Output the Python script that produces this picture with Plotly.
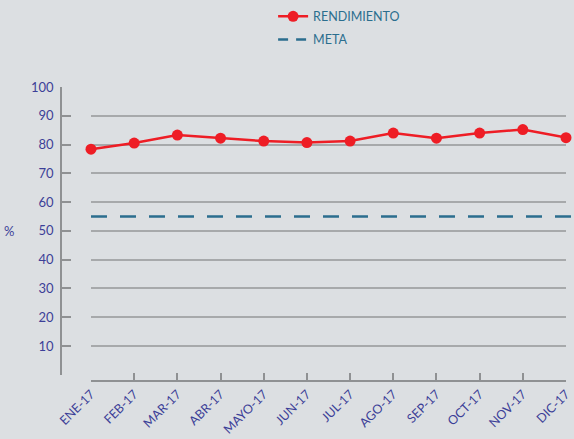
import plotly.graph_objects as go

months = ["ENE-17", "FEB-17", "MAR-17", "ABR-17", "MAYO-17", "JUN-17",
          "JUL-17", "AGO-17", "SEP-17", "OCT-17", "NOV-17", "DIC-17"]
rendimiento = [78.4, 80.5, 83.3, 82.2, 81.2, 80.7, 81.2, 84.0, 82.2, 84.0, 85.2, 82.4]
meta = 55
y_ticks = [0, 10, 20, 30, 40, 50, 60, 70, 80, 90, 100]
y_ticktext = ["" if v == 0 else str(v) for v in y_ticks]

BG = "#dcdfe2"
RED = "#ee1d25"
TEAL = "#2b6e8e"
LABEL = "#3c3f98"
GRID = "#a7a9ab"
FONT = "Lato, Open Sans, sans-serif"
DASH = "16px,13px"

fig = go.Figure()
fig.add_trace(go.Scatter(
    x=months, y=rendimiento, name="RENDIMIENTO", mode="lines+markers",
    line=dict(color=RED, width=2.5), marker=dict(color=RED, size=11),
    legendgroup="a", cliponaxis=False))
fig.add_trace(go.Scatter(
    x=months, y=[None] * len(months), name="META", mode="lines",
    line=dict(color=TEAL, width=2.5, dash="10px,8px"), legendgroup="b"))

# meta line extends to the right edge of the figure
fig.add_shape(type="line", xref="paper", yref="y",
              x0=0.0594, x1=1.02, y0=meta, y1=meta,
              line=dict(color=TEAL, width=2.5, dash=DASH))

fig.update_layout(
    width=574, height=439,
    paper_bgcolor=BG, plot_bgcolor=BG,
    margin=dict(l=61, r=8, t=87, b=58, autoexpand=False),
    font=dict(family=FONT, color=LABEL, size=13),
    showlegend=True,
    legend=dict(x=0.42, y=1.29, xanchor="left", yanchor="top",
                font=dict(color=TEAL, size=12.5),
                traceorder="grouped", tracegroupgap=4,
                bgcolor="rgba(0,0,0,0)"),
    xaxis=dict(domain=[0.0594, 1], anchor="free", position=0,
               range=[0, 11], showgrid=False, zeroline=False, automargin=False,
               showline=True, linecolor="#8f9193", linewidth=2,
               ticks="inside", ticklen=7, tickcolor="#8f9193", tickwidth=1.5,
               tickangle=-45, tickfont=dict(size=12.5, color=LABEL)),
    yaxis=dict(domain=[0.0214, 1], anchor="free", position=0,
               range=[0, 100], tickvals=y_ticks, ticktext=y_ticktext,
               automargin=False,
               showgrid=True, gridcolor=GRID, gridwidth=1.5,
               zeroline=False, showline=True, linecolor="#8f9193", linewidth=1.5,
               ticks="inside", ticklen=9, tickcolor="#8f9193", tickwidth=1.5,
               ticklabelstandoff=4,
               tickfont=dict(size=13, color=LABEL)),
    annotations=[dict(text="%", xref="paper", yref="y", x=-0.116, y=50,
                      showarrow=False, font=dict(size=13, color=LABEL))],
)

fig.write_html("out.html", config={"displayModeBar": False},
               post_script="document.body.style.margin='0';document.body.style.overflow='hidden';")
